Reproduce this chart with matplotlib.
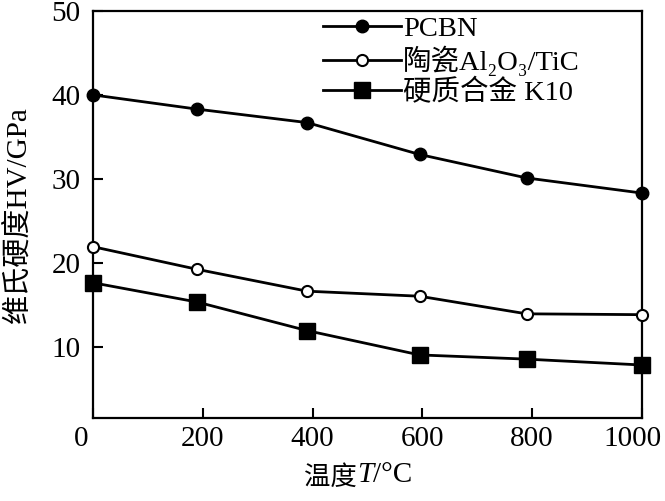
import matplotlib
matplotlib.use('Agg')
import matplotlib.pyplot as plt
from matplotlib.transforms import ScaledTranslation

plt.rcParams['font.family'] = ['Liberation Serif', 'DejaVu Serif', 'Noto Sans CJK SC']

# 数据
temp = [0, 190, 390, 595, 790, 1000]
pcbn = [40.0, 38.3, 36.7, 32.9, 30.1, 28.3]
ceramic = [21.9, 19.2, 16.6, 16.0, 13.9, 13.8]
k10 = [17.6, 15.3, 11.9, 9.0, 8.5, 7.8]

labels = ['PCBN', '陶瓷Al₂O₃/TiC', '硬质合金 K10']
xticks = [0, 200, 400, 600, 800, 1000]
yticks = [10, 20, 30, 40, 50]

fig = plt.figure(figsize=(6.65, 5.01), dpi=100)
ax = fig.add_axes([0.140, 0.166, 0.825, 0.812])

ax.plot(temp, pcbn, color='black', lw=2, marker='o', ms=9,
        mfc='black', mec='black', label=labels[0], clip_on=False, zorder=3)
ax.plot(temp, ceramic, color='black', lw=2, marker='o', ms=8,
        mfc='white', mec='black', mew=1.5, label=labels[1], clip_on=False, zorder=3)
ax.plot(temp, k10, color='black', lw=2, marker='s', ms=11,
        mfc='black', mec='black', label=labels[2], clip_on=False, zorder=3)

ax.set_xlim(0, 1000)
ax.set_ylim(1.5, 50)
ax.set_xticks(xticks)
ax.set_yticks(yticks)
ax.tick_params(direction='in', length=7, width=1.5, labelsize=21)
ax.tick_params(axis='x', pad=6)
ax.tick_params(axis='y', pad=9)
for s in ax.spines.values():
    s.set_linewidth(1.6)

# 两端的刻度标签稍微左移
xl = ax.get_xticklabels()
xl[0].set_transform(xl[0].get_transform() + ScaledTranslation(-0.12, 0, fig.dpi_scale_trans))
xl[-1].set_transform(xl[-1].get_transform() + ScaledTranslation(-0.09, 0, fig.dpi_scale_trans))

ax.set_ylabel('维氏硬度HV/GPa', fontsize=21)
ax.yaxis.set_label_coords(-0.113, 0.5)

# x轴标签, T 为斜体
t1 = ax.text(0.481, -0.147, '温度', transform=ax.transAxes, fontsize=19,
             ha='right', va='center')
t2 = ax.annotate('T', xy=(1, 0.08), xycoords=t1, fontsize=21, style='italic',
                 ha='left', va='bottom')
ax.annotate('/°C', xy=(1, 0), xycoords=t2, fontsize=21, ha='left', va='bottom')

leg = ax.legend(loc='upper left', bbox_to_anchor=(0.388, 1.03), frameon=False,
                fontsize=20.5, handlelength=2.75, handletextpad=0.05,
                labelspacing=0.12, borderaxespad=0.2)

fig.savefig('out.png', dpi=100)
